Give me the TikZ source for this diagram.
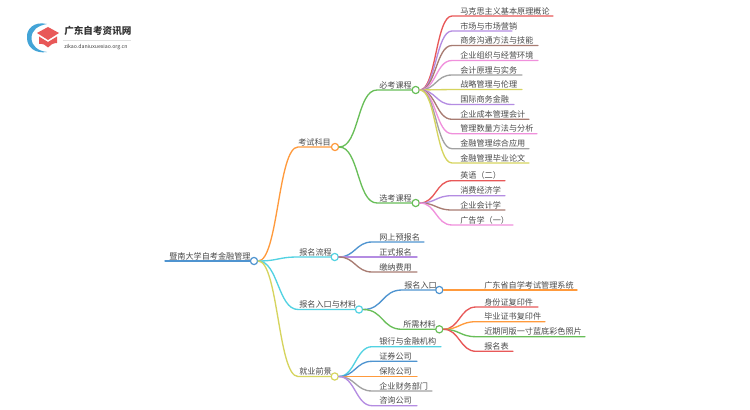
\documentclass[tikz,border=0pt]{standalone}
\usepackage{fontspec}
\setmainfont{Noto Sans CJK SC}
\definecolor{cblue}{HTML}{4F94D0}
\definecolor{corange}{HTML}{FF9A3C}
\definecolor{ccyan}{HTML}{52D2E2}
\definecolor{colive}{HTML}{D6D45E}
\definecolor{cred}{HTML}{E85858}
\definecolor{cpurple}{HTML}{B48CE2}
\definecolor{cbrown}{HTML}{A87C72}
\definecolor{cpink}{HTML}{F090DC}
\definecolor{cgray}{HTML}{A2A2A2}
\definecolor{cgreen}{HTML}{68BE58}
\definecolor{ctext}{HTML}{4A4A4A}
\tikzset{
  x=0.75pt,y=-0.75pt,
  hub/.style={circle,draw=#1,fill=white,line width=0.9pt,minimum size=5.4pt,inner sep=0pt},
  label text/.style={font=\fontsize{6.1}{7}\selectfont,text=ctext,anchor=base west,inner sep=0pt},
  wire/.style={draw=#1,line width=1pt,line cap=round}
}
% id, parent, colour, xstart, xend, y, xtext, text, control
\newcommand{\leafitem}[9]{%
  \coordinate (#1S) at (#4,#6);
  \coordinate (#1E) at (#5,#6);
  \draw[wire=#3] (#2.east) .. controls +(#9,0) and +(-#9,0) .. (#1S) -- (#1E);
  \node[label text] (#1) at (#7,#6-1.8) {#8};
}
% id, parent, colour, xstart, y, xtext, text, control
\newcommand{\branchitem}[8]{%
  \coordinate (#1S) at (#4,#5);
  \draw[wire=#3] (#2.east) .. controls +(#8,0) and +(-#8,0) .. (#1S) -- (#1C.west);
  \node[label text] (#1) at (#6,#5-1.8) {#7};
}
\begin{document}
\begin{tikzpicture}
\useasboundingbox[fill=white] (0,0) rectangle (750,410);
% logo
\fill[cblue!85!cyan] (47,24) .. controls (34,21) and (26,29) .. (27,38) .. controls (27,47) and (35,54) .. (47,52) .. controls (38,51) and (31.5,46) .. (31.5,38) .. controls (31.5,30) and (38,25.5) .. (47,24) -- cycle;
\fill[cred] (37,33) -- (48,27) -- (59,33) -- (48,40) -- cycle;
\fill[cred] (39,36.5) -- (48,42) -- (57,36.5) -- (57,43) .. controls (53,43) and (50,45) .. (48,47.5) .. controls (46,45) and (43,43.5) .. (39,44) -- cycle;
\node[font=\fontsize{7.2}{8}\selectfont\bfseries,text=black!80,anchor=west,inner sep=0pt] (logotitle) at (64,31) {广东自考资讯网};
\draw[black!12,line width=0.4pt] (63,40.5) -- (131,40.5);
\node[font=\fontsize{3.9}{5}\selectfont,text=black!75,anchor=west,inner sep=0pt] (logourl) at (64,47) {zikao.daniuxuexiao.org.cn};
% hubs
\node[hub=cblue] (root) at (254,261) {};
\node[hub=corange] (examC) at (335,147) {};
\node[hub=cgreen] (reqC) at (415.7,90) {};
\node[hub=cgreen] (optC) at (415.7,203) {};
\node[hub=ccyan] (flowC) at (334.7,257) {};
\node[hub=ccyan] (matC) at (359,309.5) {};
\node[hub=cblue] (entryC) at (439.3,290) {};
\node[hub=cgreen] (needC) at (439.3,329.3) {};
\node[hub=colive] (jobC) at (334.7,376.5) {};
% root
\coordinate (rootS) at (165,261);
\draw[wire=cblue] (rootS) -- (root.west);
\node[label text] (roottext) at (169,259.2) {暨南大学自考金融管理};
% first level
\branchitem{exam}{root}{corange}{298}{147}{298}{考试科目}{20}
\branchitem{flow}{root}{ccyan}{298}{257}{299}{报名流程}{20}
\branchitem{mat}{root}{ccyan}{298}{309.5}{299}{报名入口与材料}{20}
\branchitem{job}{root}{colive}{298}{376.5}{299}{就业前景}{20}
% second level
\branchitem{req}{examC}{cgreen}{377}{90}{379}{必考课程}{20}
\branchitem{opt}{examC}{cgreen}{377}{203}{379}{选考课程}{20}
\branchitem{entry}{matC}{cblue}{402}{290}{404}{报名入口}{20}
\branchitem{need}{matC}{cgreen}{402}{329.3}{403}{所需材料}{20}
% required courses
\leafitem{a1}{reqC}{cred}{452}{553}{16}{460}{马克思主义基本原理概论}{16}
\leafitem{a2}{reqC}{cpurple}{452}{512}{31}{460}{市场与市场营销}{16}
\leafitem{a3}{reqC}{cbrown}{452}{538}{45.5}{460}{商务沟通方法与技能}{16}
\leafitem{a4}{reqC}{cpink}{452}{538}{60.5}{460}{企业组织与经营环境}{16}
\leafitem{a5}{reqC}{cgray}{452}{522}{75}{460}{会计原理与实务}{16}
\leafitem{a6}{reqC}{colive}{452}{522}{89.5}{460}{战略管理与伦理}{16}
\leafitem{a7}{reqC}{cpurple}{452}{514}{104.5}{460}{国际商务金融}{16}
\leafitem{a8}{reqC}{cbrown}{452}{529}{119.3}{460}{企业成本管理会计}{16}
\leafitem{a9}{reqC}{cpink}{452}{537}{133.7}{460}{管理数量方法与分析}{16}
\leafitem{a10}{reqC}{cgray}{452}{529}{148.7}{460}{金融管理综合应用}{16}
\leafitem{a11}{reqC}{colive}{452}{529}{163}{460}{金融管理毕业论文}{16}
% optional courses
\leafitem{b1}{optC}{cred}{452}{505}{180.7}{460}{英语（二）}{16}
\leafitem{b2}{optC}{cpurple}{452}{505}{195.7}{460}{消费经济学}{16}
\leafitem{b3}{optC}{cbrown}{452}{505}{210}{460}{企业会计学}{16}
\leafitem{b4}{optC}{cpink}{452}{513}{225}{460}{广告学（一）}{16}
% process
\leafitem{c1}{flowC}{cblue}{372}{424}{242}{379}{网上预报名}{16}
\leafitem{c2}{flowC}{cpurple}{372}{417}{257}{379}{正式报名}{16}
\leafitem{c3}{flowC}{cbrown}{372}{417}{272}{379}{缴纳费用}{16}
% entry
\leafitem{d1}{entryC}{corange}{476}{577}{290}{484}{广东省自学考试管理系统}{16}
% materials
\leafitem{e1}{needC}{cred}{476}{538}{307}{484}{身份证复印件}{16}
\leafitem{e2}{needC}{corange}{476}{545}{321.7}{484}{毕业证书复印件}{16}
\leafitem{e3}{needC}{cgreen}{476}{585}{336.7}{484}{近期同版一寸蓝底彩色照片}{16}
\leafitem{e4}{needC}{cred}{476}{513}{351.3}{484}{报名表}{16}
% jobs
\leafitem{f1}{jobC}{ccyan}{372}{441}{346.7}{379}{银行与金融机构}{16}
\leafitem{f2}{jobC}{cblue}{372}{417}{361.3}{379}{证券公司}{16}
\leafitem{f3}{jobC}{corange}{372}{417}{376.5}{379}{保险公司}{16}
\leafitem{f4}{jobC}{cgray}{372}{432}{391}{379}{企业财务部门}{16}
\leafitem{f5}{jobC}{cpurple}{372}{417}{405.7}{379}{咨询公司}{16}
\end{tikzpicture}
\end{document}
